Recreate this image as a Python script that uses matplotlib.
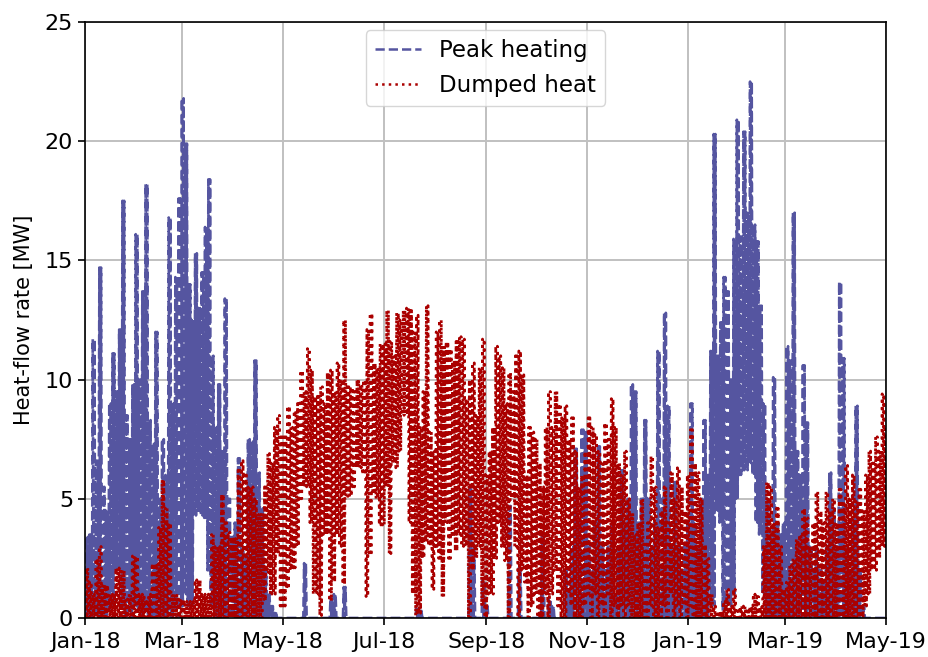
import numpy as np
import matplotlib
matplotlib.use("Agg")
import matplotlib.pyplot as plt
import matplotlib.dates as mdates
from datetime import datetime

# Two-day bins starting 2018-01-01: daily low and high heat-flow rate [MW] in each bin
start = datetime(2018, 1, 1)
end = datetime(2019, 5, 1)
bin_days = 2

peak_hi = [
    3.4, 3.5, 11.7, 6.6, 14.7, 5.5, 4.5, 9.0, 11.1, 9.5,
    12.1, 17.5, 8.5, 7.5, 9.8, 16.1, 10.0, 13.7, 18.2, 8.3,
    7.3, 12.0, 5.0, 7.5, 6.0, 16.8, 9.0, 14.3, 17.6, 21.8,
    19.9, 14.0, 12.5, 15.3, 13.0, 14.5, 16.4, 18.4, 11.0, 8.0,
    9.8, 7.0, 13.4, 5.0, 3.5, 4.0, 6.7, 3.0, 2.5, 7.5,
    7.4, 10.8, 6.1, 4.6, 2.0, 1.0, 0.5, 0.3, 0.0, 0.0,
    0.0, 0.0, 0.0, 0.0, 0.0, 0.0, 2.3, 0.0, 0.0, 0.0,
    0.0, 0.0, 0.0, 0.0, 0.9, 1.0, 0.0, 0.0, 1.3, 0.0,
    0.0, 0.0, 0.0, 0.0, 0.0, 0.0, 0.0, 0.0, 0.0, 0.0,
    0.0, 0.0, 0.0, 0.0, 0.0, 0.0, 0.0, 0.0, 0.0, 0.0,
    0.4, 0.3, 0.0, 0.0, 0.0, 0.0, 0.0, 0.0, 0.0, 0.0,
    0.0, 0.0, 0.0, 0.0, 0.0, 0.0, 5.4, 3.0, 0.0, 0.0,
    1.6, 0.5, 0.0, 0.0, 0.0, 0.0, 0.0, 0.0, 4.7, 0.0,
    0.0, 2.1, 0.0, 0.0, 0.0, 0.0, 0.0, 0.0, 3.5, 0.0,
    0.8, 0.5, 0.0, 0.0, 0.0, 2.0, 1.0, 3.0, 7.1, 4.0,
    7.9, 7.8, 3.0, 2.0, 4.0, 7.2, 3.0, 2.0, 3.0, 4.0,
    1.0, 3.0, 6.2, 4.0, 5.0, 9.8, 9.5, 4.0, 5.0, 8.3,
    5.0, 3.0, 4.0, 11.2, 5.0, 12.8, 8.9, 3.0, 5.7, 3.0,
    2.0, 3.0, 4.0, 9.0, 4.0, 3.0, 5.0, 8.3, 6.0, 11.2,
    20.3, 11.0, 12.4, 14.3, 13.7, 10.0, 15.9, 20.9, 16.0, 20.4,
    17.0, 22.5, 16.5, 15.8, 13.1, 9.0, 5.0, 3.5, 10.1, 4.0,
    3.5, 4.0, 11.4, 10.8, 17.0, 7.0, 6.0, 10.6, 8.2, 3.0,
    2.0, 3.0, 2.0, 1.5, 3.0, 6.1, 4.6, 3.0, 14.1, 10.9,
    3.0, 2.0, 4.0, 8.9, 2.0, 0.5, 0.0, 0.0, 0.0, 0.0,
    0.0, 0.0, 0.0,
]

peak_lo = [
    0.0, 0.0, 0.0, 0.2, 0.0, 0.2, 0.0, 0.3, 0.5, 2.0,
    2.0, 0.5, 0.0, 0.3, 0.0, 0.5, 0.3, 0.0, 0.3, 0.0,
    0.0, 0.0, 0.0, 0.0, 0.0, 0.3, 0.0, 0.3, 0.0, 0.5,
    1.0, 0.5, 0.5, 4.3, 4.5, 4.3, 4.2, 2.0, 0.5, 0.0,
    0.0, 0.0, 0.0, 0.0, 0.0, 0.0, 0.0, 0.0, 0.0, 0.0,
    0.0, 0.0, 0.0, 0.0, 0.0, 0.0, 0.0, 0.0, 0.0, 0.0,
    0.0, 0.0, 0.0, 0.0, 0.0, 0.0, 0.0, 0.0, 0.0, 0.0,
    0.0, 0.0, 0.0, 0.0, 0.0, 0.0, 0.0, 0.0, 0.0, 0.0,
    0.0, 0.0, 0.0, 0.0, 0.0, 0.0, 0.0, 0.0, 0.0, 0.0,
    0.0, 0.0, 0.0, 0.0, 0.0, 0.0, 0.0, 0.0, 0.0, 0.0,
    0.0, 0.0, 0.0, 0.0, 0.0, 0.0, 0.0, 0.0, 0.0, 0.0,
    0.0, 0.0, 0.0, 0.0, 0.0, 0.0, 0.0, 0.0, 0.0, 0.0,
    0.0, 0.0, 0.0, 0.0, 0.0, 0.0, 0.0, 0.0, 0.0, 0.0,
    0.0, 0.0, 0.0, 0.0, 0.0, 0.0, 0.0, 0.0, 0.0, 0.0,
    0.0, 0.0, 0.0, 0.0, 0.0, 0.0, 0.0, 0.0, 0.0, 0.0,
    0.0, 0.0, 0.0, 0.0, 0.0, 0.0, 0.0, 0.0, 0.0, 0.0,
    0.0, 0.0, 0.0, 0.0, 0.0, 0.0, 0.0, 0.0, 0.0, 0.0,
    0.0, 0.0, 0.0, 0.0, 0.0, 0.0, 0.0, 0.0, 0.0, 0.0,
    0.0, 0.0, 0.0, 0.0, 0.0, 0.0, 0.0, 0.0, 0.0, 0.5,
    0.5, 4.5, 4.0, 0.3, 0.5, 0.5, 1.0, 5.0, 6.0, 6.2,
    6.2, 6.5, 6.0, 4.0, 3.5, 1.0, 0.0, 0.0, 0.0, 0.0,
    0.0, 0.0, 0.0, 0.0, 0.0, 0.0, 0.0, 0.0, 0.0, 0.0,
    0.0, 0.0, 0.0, 0.0, 0.0, 0.0, 0.0, 0.0, 0.0, 0.0,
    0.0, 0.0, 0.0, 0.0, 0.0, 0.0, 0.0, 0.0, 0.0, 0.0,
    0.0, 0.0, 0.0,
]

dump_hi = [
    2.1, 1.5, 1.0, 2.5, 3.0, 1.4, 1.4, 1.0, 1.0, 2.1,
    2.1, 2.0, 0.8, 1.0, 2.6, 2.6, 1.0, 1.0, 0.8, 1.0,
    2.3, 2.3, 3.8, 5.8, 4.6, 4.0, 1.0, 1.0, 0.8, 0.8,
    0.7, 0.7, 0.7, 1.6, 1.6, 1.0, 1.0, 1.0, 3.5, 3.0,
    3.0, 5.2, 4.0, 3.6, 3.4, 3.4, 6.2, 6.6, 6.0, 5.5,
    5.5, 5.0, 4.4, 4.4, 5.5, 6.9, 6.5, 8.0, 8.5, 7.6,
    7.6, 8.9, 8.0, 8.7, 9.0, 10.4, 9.5, 11.3, 10.4, 9.3,
    9.3, 9.7, 9.0, 10.3, 10.4, 9.5, 10.7, 10.0, 12.5, 9.7,
    9.7, 9.5, 10.0, 9.8, 10.0, 12.1, 12.8, 10.7, 10.5, 11.5,
    11.5, 12.9, 11.6, 11.0, 12.8, 12.5, 12.9, 13.0, 12.9, 12.0,
    12.7, 8.0, 9.5, 13.1, 7.8, 7.0, 12.0, 12.5, 11.4, 11.6,
    11.3, 10.8, 11.6, 11.8, 11.7, 9.2, 10.0, 10.7, 8.5, 10.5,
    11.7, 6.0, 7.0, 8.0, 11.4, 11.0, 10.5, 9.0, 10.3, 9.5,
    11.0, 11.2, 10.2, 6.0, 8.0, 7.8, 7.5, 6.5, 5.5, 8.0,
    9.5, 8.0, 9.5, 9.0, 8.4, 8.9, 7.5, 8.4, 7.0, 5.5,
    6.0, 7.0, 8.4, 8.0, 7.7, 7.0, 6.5, 8.2, 7.5, 9.2,
    8.0, 6.5, 6.0, 7.0, 5.0, 4.4, 3.5, 4.0, 5.0, 3.1,
    4.0, 6.8, 5.5, 3.8, 4.5, 5.5, 4.0, 6.1, 5.0, 6.3,
    5.5, 4.5, 6.0, 7.9, 6.5, 6.1, 5.0, 3.1, 2.5, 1.0,
    0.5, 0.3, 0.3, 0.7, 1.2, 0.5, 1.2, 0.3, 0.5, 0.5,
    0.3, 0.5, 1.0, 0.9, 0.5, 3.0, 5.7, 5.5, 4.0, 4.6,
    3.0, 1.2, 1.5, 2.2, 2.5, 3.3, 3.5, 4.6, 4.2, 3.0,
    4.0, 5.3, 4.5, 4.0, 5.3, 4.5, 5.0, 4.0, 5.4, 4.8,
    6.4, 5.0, 6.0, 4.9, 5.4, 4.5, 6.0, 7.0, 6.5, 7.6,
    7.0, 9.4, 7.9,
]

dump_lo = [
    0.0, 0.0, 0.0, 0.0, 0.0, 0.0, 0.0, 0.0, 0.0, 0.0,
    0.0, 0.0, 0.0, 0.0, 0.0, 0.0, 0.0, 0.0, 0.0, 0.0,
    0.0, 0.0, 0.0, 0.0, 0.0, 0.0, 0.0, 0.0, 0.0, 0.0,
    0.0, 0.0, 0.0, 0.0, 0.0, 0.0, 0.0, 0.0, 0.0, 0.0,
    0.0, 0.0, 0.0, 0.0, 0.0, 0.0, 0.0, 0.0, 0.0, 0.0,
    0.0, 0.0, 0.0, 0.0, 0.7, 1.9, 1.0, 1.0, 2.7, 0.5,
    0.5, 1.2, 2.0, 2.1, 3.0, 5.0, 5.5, 5.5, 4.0, 1.0,
    1.0, 0.1, 3.5, 3.5, 0.7, 1.5, 3.5, 3.0, 1.4, 5.1,
    5.1, 5.5, 6.3, 6.3, 6.0, 0.9, 2.6, 5.3, 5.0, 3.9,
    3.9, 5.5, 2.7, 6.5, 6.3, 7.0, 8.5, 8.5, 4.0, 1.0,
    0.1, 0.2, 2.5, 3.2, 3.0, 1.2, 3.0, 2.5, 0.9, 4.0,
    2.5, 3.5, 2.8, 3.5, 3.0, 3.0, 0.0, 2.0, 2.5, 3.0,
    0.5, 0.0, 1.0, 1.0, 2.5, 4.0, 3.0, 2.4, 0.0, 5.0,
    3.0, 0.0, 2.0, 1.5, 0.0, 0.5, 1.0, 0.0, 0.0, 1.0,
    0.0, 1.0, 2.0, 0.5, 0.0, 0.0, 1.0, 0.5, 0.0, 0.0,
    0.0, 0.5, 1.0, 0.0, 1.0, 0.0, 0.5, 0.0, 1.0, 0.0,
    0.5, 0.0, 0.5, 0.0, 0.5, 0.0, 0.0, 0.0, 0.0, 0.0,
    0.0, 0.5, 0.0, 0.0, 0.0, 0.5, 0.0, 1.0, 0.0, 0.5,
    0.0, 0.5, 0.0, 0.5, 0.0, 0.0, 0.0, 0.0, 0.0, 0.0,
    0.0, 0.0, 0.0, 0.0, 0.0, 0.0, 0.0, 0.0, 0.0, 0.0,
    0.0, 0.0, 0.0, 0.0, 0.0, 0.0, 0.0, 0.0, 0.0, 0.0,
    0.0, 0.0, 0.0, 0.0, 0.0, 0.0, 0.0, 0.0, 0.0, 0.0,
    0.0, 0.0, 0.0, 0.0, 0.0, 0.0, 0.0, 0.0, 0.0, 0.0,
    0.0, 0.0, 0.0, 0.0, 0.0, 0.0, 0.5, 1.0, 2.0, 2.0,
    2.5, 3.0, 3.0,
]

series_labels = ["Peak heating", "Dumped heat"]
series_colors = ["#5555a0", "#aa0000"]
series_styles = ["--", ":"]


def daily_trace(lo, hi):
    """Each day of a bin swings from the bin's daily low to its daily high."""
    lo = np.repeat(np.asarray(lo, dtype=float), bin_days)
    hi = np.repeat(np.asarray(hi, dtype=float), bin_days)
    day0 = mdates.date2num(start) + np.arange(len(hi))
    t = np.column_stack([day0 + 0.2, day0 + 0.7]).ravel()
    v = np.column_stack([lo, hi]).ravel()
    return t, v


fig = plt.figure(figsize=(9.29, 6.57), dpi=100)
ax = fig.add_axes([0.0915, 0.0594, 0.8622, 0.9071])

for (lo, hi), lab, col, ls, lw in zip(
    [(peak_lo, peak_hi), (dump_lo, dump_hi)],
    series_labels, series_colors, series_styles, [1.9, 2.0],
):
    t, v = daily_trace(lo, hi)
    ax.plot(t, v, ls=ls, color=col, lw=lw, label=lab)

ax.set_xlim(mdates.date2num(start), mdates.date2num(end))
ax.set_ylim(0, 25)
ax.set_yticks([0, 5, 10, 15, 20, 25])
ax.xaxis.set_major_locator(mdates.MonthLocator(bymonth=[1, 3, 5, 7, 9, 11]))
ax.xaxis.set_major_formatter(mdates.DateFormatter("%b-%y"))
ax.tick_params(labelsize=16, width=1.2, length=5)
ax.tick_params(axis="x", pad=5)
for sp in ax.spines.values():
    sp.set_linewidth(1.2)
ax.grid(True, color="#c0c0c0", lw=1.4)
ax.set_axisbelow(True)
ax.set_ylabel("Heat-flow rate [MW]", fontsize=15, labelpad=8)
leg = ax.legend(loc="upper center", fontsize=16.5, handlelength=2.0,
                borderaxespad=0.35)
for line in leg.get_lines():
    line.set_linewidth(1.8)

fig.savefig("out.png", dpi=100)
